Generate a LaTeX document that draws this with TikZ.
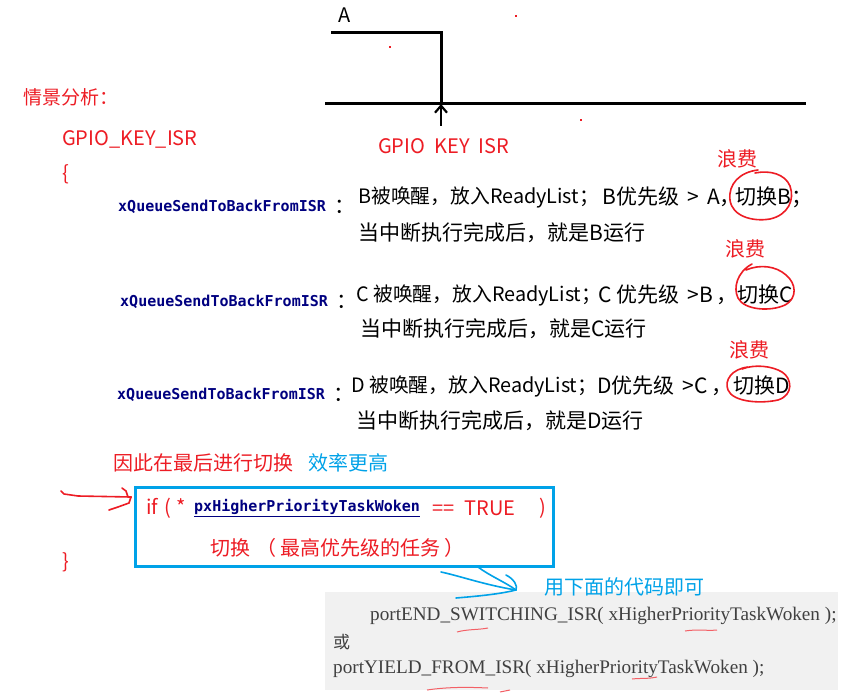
\documentclass[tikz,border=0pt]{standalone}
\usepackage{fontspec}
\setmainfont{Noto Sans CJK SC}
\newfontfamily\cjk{Noto Sans CJK SC}
\newfontfamily\codemono{DejaVu Sans Mono}
\newfontfamily\codeserif{Liberation Serif}
\usetikzlibrary{arrows.meta}
\definecolor{pred}{RGB}{237,28,36}
\definecolor{pblue}{RGB}{0,162,232}
\definecolor{navy}{RGB}{0,0,128}
\definecolor{codegray}{RGB}{64,64,64}
\definecolor{boxgray}{RGB}{241,241,241}
\tikzset{
  redtxt/.style={text=pred, anchor=west, inner sep=0pt, font=\fontsize{20}{23}\selectfont},
  blacktxt/.style={text=black, anchor=west, inner sep=0pt, font=\fontsize{21}{24}\selectfont},
  blacksm/.style={blacktxt, font=\fontsize{19.8}{23}\selectfont},
  fnname/.style={text=navy, anchor=west, inner sep=0pt, font=\codemono\bfseries\fontsize{15}{17}\selectfont},
  codetxt/.style={text=codegray, anchor=west, inner sep=0pt, font=\codeserif\fontsize{19.2}{22}\selectfont},
  scribble/.style={pred, line width=1.6pt, line cap=round, line join=round},
  bscribble/.style={pblue, line width=1.6pt, line cap=round, line join=round},
  waste/.style={text=pred, anchor=center, inner sep=0pt, font=\fontsize{20}{23}\selectfont},
}
\begin{document}
\begin{tikzpicture}[x=1pt,y=-1pt]
\useasboundingbox (0,0) rectangle (846,698);
\fill[white] (0,0) rectangle (846,698);

% timing diagram
\node[blacktxt, font=\fontsize{20}{23}\selectfont] (A) at (338,15) {A};
\coordinate (p1) at (331,33);
\coordinate (p2) at (441,33);
\coordinate (p3) at (441,104);
\coordinate (l1) at (325,104);
\coordinate (l2) at (806,104);
\coordinate (ar) at (441,126);
\draw[line width=3pt] (p1) -- (p2) -- (p3);
\draw[line width=3pt] (l1) -- (l2);
\draw[line width=2.2pt, -{Straight Barb[length=7pt,width=12pt]}] (ar) -- (p3);
\fill[pred] (389,46) rectangle (391,48);
\fill[pred] (515,15) rectangle (517,17);
\fill[pred] (580,119) rectangle (582,121);
\node[redtxt] (gk) at (378,146) {GPIO\hspace{0.45em}KEY\hspace{0.45em}ISR};

% left text
\node[redtxt, font=\fontsize{19}{22}\selectfont] (qj) at (23,97) {情景分析：};
\node[redtxt] (isr) at (62,139) {GPIO\_KEY\_ISR};
\node[redtxt] (lb) at (62,174) {\{};
\node[redtxt] (rb) at (62,562) {\}};

% row B
\node[fnname] (f1) at (118,207) {xQueueSendToBackFromISR};
\node[blacktxt] (c1) at (334,207) {：};
\node[blacksm] (b1) at (358,197) {B被唤醒，放入ReadyList；};
\node[blacktxt] (b1b) at (602,197) {B优先级 \,>\, A，};
\node[blacktxt] (b1c) at (735,197) {切换B；};
\node[blacktxt] (b2) at (358,233) {当中断执行完成后，就是B运行};
% row C
\node[fnname] (f2) at (120,302) {xQueueSendToBackFromISR};
\node[blacktxt] (c2) at (336,302) {：};
\node[blacksm] (cc1) at (356,295) {C 被唤醒，放入ReadyList；};
\node[blacktxt] (cc1b) at (598,295) {C 优先级 \,>B\,，};
\node[blacktxt] (cc1c) at (737,295) {切换C};
\node[blacktxt] (cc2) at (360,329) {当中断执行完成后，就是C运行};
% row D
\node[fnname] (f3) at (117,395) {xQueueSendToBackFromISR};
\node[blacktxt] (c3) at (333,395) {：};
\node[blacksm] (d1) at (351,386) {D 被唤醒，放入ReadyList；};
\node[blacktxt] (d1b) at (597,386) {D优先级 \,>C\,，};
\node[blacktxt] (d1c) at (733,386) {切换D};
\node[blacktxt] (d2) at (356,421) {当中断执行完成后，就是D运行};

% waste labels and circles
\node[waste] (w1) at (737,159) {浪费};
\node[waste] (w2) at (745,249) {浪费};
\node[waste] (w3) at (749,350) {浪费};
\draw[scribble] (758,170) .. controls (740,172) and (728,184) .. (730,200)
  .. controls (732,216) and (752,222) .. (770,219)
  .. controls (788,215) and (795,200) .. (790,186)
  .. controls (785,174) and (770,170) .. (755,173);
\draw[scribble] (752,264) .. controls (737,272) and (733,288) .. (738,298)
  .. controls (744,310) and (770,312) .. (785,305)
  .. controls (798,298) and (796,283) .. (786,275)
  .. controls (776,266) and (760,264) .. (746,270);
\draw[scribble] (748,367) .. controls (732,369) and (724,380) .. (728,390)
  .. controls (733,402) and (760,404) .. (778,400)
  .. controls (794,395) and (792,378) .. (782,372)
  .. controls (772,366) and (755,364) .. (742,369);

% conclusion
\node[redtxt] (yc) at (113,463) {因此在最后进行切换};
\node[redtxt, text=pblue] (xl) at (308,463) {效率更高};

% red arrow into box
\coordinate (ra0) at (61,491);
\coordinate (ra1) at (131,497);
\draw[scribble] (ra0) -- (64,494) -- (78,496) -- (ra1);
\draw[scribble] (122,488) -- (126,491) -- (128,497) -- (ra1);
\draw[scribble] (109,510) -- (118,507) -- (129,503) -- (ra1);

% blue box
\draw[pblue, line width=3pt] (135,487) rectangle (553,566);
\node[redtxt] (if1) at (146,508) {if\hspace{0.3em}(\hspace{0.3em}*};
\node[fnname] (px) at (194,508) {\underline{pxHigherPriorityTaskWoken}};
\node[redtxt] (tr) at (432,508) {==\hspace{0.5em}TRUE};
\node[redtxt] (tp) at (539,508) {)};
\node[redtxt] (qh) at (210,548) {切换\hspace{0.3em}（\hspace{0.2em}最高优先级的任务\hspace{0.2em}）};

% gray code box
\fill[boxgray] (325,592) rectangle (838,690);

% blue scribble arrow
\coordinate (bt) at (516,590);
\draw[bscribble] (441,572) .. controls (460,576) and (485,585) .. (bt);
\draw[bscribble] (478,567) .. controls (490,576) and (505,582) .. (bt);
\draw[bscribble] (506,575) .. controls (514,579) and (518,586) .. (bt);
\draw[bscribble] (456,598) .. controls (480,596) and (500,594) .. (bt);
\node[redtxt, text=pblue] (yx) at (544,587) {用下面的代码即可};

\node[codetxt] (k1) at (370,616) {portEND\_SWITCHING\_ISR( xHigherPriorityTaskWoken );};
\node[codetxt, font=\cjk\fontsize{17}{20}\selectfont] (k2) at (333,642) {或};
\node[codetxt] (k3) at (333,669) {portYIELD\_FROM\_ISR( xHigherPriorityTaskWoken );};
\draw[pred!70, line width=1pt] (457,632) .. controls (468,629) and (478,630) .. (488,628);
\draw[pred!70, line width=1pt] (685,631) .. controls (697,629) and (707,631) .. (717,630);
\draw[pred!70, line width=1pt] (427,690) .. controls (447,687) and (467,687) .. (488,688);
\draw[pred!70, line width=1pt] (500,692) -- (510,690);
\draw[pred!70, line width=1pt] (632,679) .. controls (641,678) and (648,679) .. (657,677);
\end{tikzpicture}
\end{document}
